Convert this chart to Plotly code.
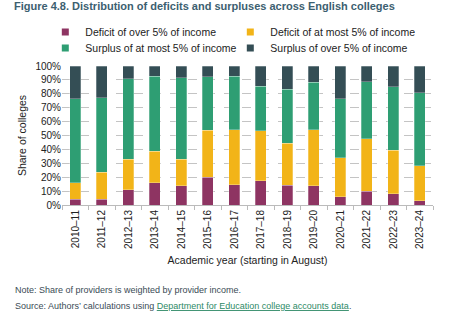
import plotly.graph_objects as go

years = ["2010–11", "2011–12", "2012–13", "2013–14", "2014–15", "2015–16", "2016–17",
         "2017–18", "2018–19", "2019–20", "2020–21", "2021–22", "2022–23", "2023–24"]

# segment sizes (%)
deficit_over5 = [4.3, 4.0, 11.0, 16.0, 13.9, 19.9, 14.6, 17.5, 14.1, 13.9, 6.0, 9.8, 8.1, 3.1]
deficit_atmost5 = [11.7, 19.5, 21.8, 22.8, 18.9, 33.9, 39.7, 35.9, 30.4, 40.4, 28.0, 37.8, 31.4, 25.1]
surplus_atmost5 = [60.3, 53.8, 58.2, 54.0, 58.6, 38.6, 38.3, 32.0, 38.8, 34.0, 42.3, 40.9, 45.5, 52.7]
surplus_over5 = [100 - a - b - c for a, b, c in zip(deficit_over5, deficit_atmost5, surplus_atmost5)]

series = [
    ("Deficit of over 5% of income", deficit_over5, "#8E3462", "legend"),
    ("Deficit of at most 5% of income", deficit_atmost5, "#F2B418", "legend"),
    ("Surplus of at most 5% of income", surplus_atmost5, "#2E9E73", "legend2"),
    ("Surplus of over 5% of income", surplus_over5, "#344E55", "legend2"),
]

fig = go.Figure()
for name, vals, col, lg in series:
    fig.add_trace(go.Bar(
        x=years, y=vals, name=name, showlegend=False,
        marker=dict(color=col, line=dict(color="rgba(255,255,255,0.45)", width=0.6)),
    ))
# legend entries with small square swatches
for name, vals, col, lg in series:
    fig.add_trace(go.Scatter(
        x=[None], y=[None], mode="markers", name=name, legend=lg,
        marker=dict(symbol="square", size=7, color=col),
    ))

font = "Liberation Sans, Arial, sans-serif"
legend_common = dict(
    orientation="h", xanchor="left", yanchor="middle",
    entrywidth=140, traceorder="normal", bgcolor="rgba(0,0,0,0)",
    font=dict(size=10.5, color="#222222", family=font),
    itemwidth=30, tracegroupgap=0,
)
fig.update_layout(
    barmode="stack",
    bargap=0.6,
    width=451, height=321,
    margin=dict(l=62, r=18, t=66, b=116),
    paper_bgcolor="white", plot_bgcolor="white",
    font=dict(family=font, size=10, color="#222222"),
    showlegend=True,
    legend=dict(legend_common, x=-0.045, y=1 + (66 - 32) / 139),
    legend2=dict(legend_common, x=-0.045, y=1 + (66 - 48) / 139),
    xaxis=dict(
        type="category", tickangle=-90, tickson="boundaries",
        ticks="outside", ticklen=4, tickcolor="#bbbbbb",
        showline=True, linecolor="#bbbbbb", linewidth=1,
        tickfont=dict(size=10, color="#222222"),
        title=dict(text="Academic year (starting in August)", font=dict(size=10.5, color="#222222"), standoff=8),
    ),
    yaxis=dict(
        range=[0, 100], dtick=10, ticksuffix="%",
        showgrid=True, gridcolor="#c4c4c4", griddash="dash", gridwidth=1,
        zeroline=False, showline=False,
        tickfont=dict(size=10, color="#222222"),
        title=dict(text="Share of colleges", font=dict(size=10.5, color="#222222"), standoff=6),
    ),
)

fig.add_annotation(
    text="<b>Figure 4.8. Distribution of deficits and surpluses across English colleges</b>",
    xref="paper", yref="paper", x=(12 - 62) / 371, y=1 + (66 - 6) / 139, xanchor="left", yanchor="middle",
    showarrow=False, font=dict(size=11, color="#3C6070", family=font),
)
fig.add_annotation(
    text="Note: Share of providers is weighted by provider income.",
    xref="paper", yref="paper", x=-49/371, y=-(290 - 205) / 139, xanchor="left", yanchor="middle",
    showarrow=False, font=dict(size=9, color="#3A4B55", family=font),
)
fig.add_annotation(
    text='Source: Authors’ calculations using <span style="color:#2E8A66;text-decoration:underline">Department for Education college accounts data</span>.',
    xref="paper", yref="paper", x=-49/371, y=-(306 - 205) / 139, xanchor="left", yanchor="middle",
    showarrow=False, font=dict(size=9, color="#3A4B55", family=font),
)

fig.write_html("out.html")
